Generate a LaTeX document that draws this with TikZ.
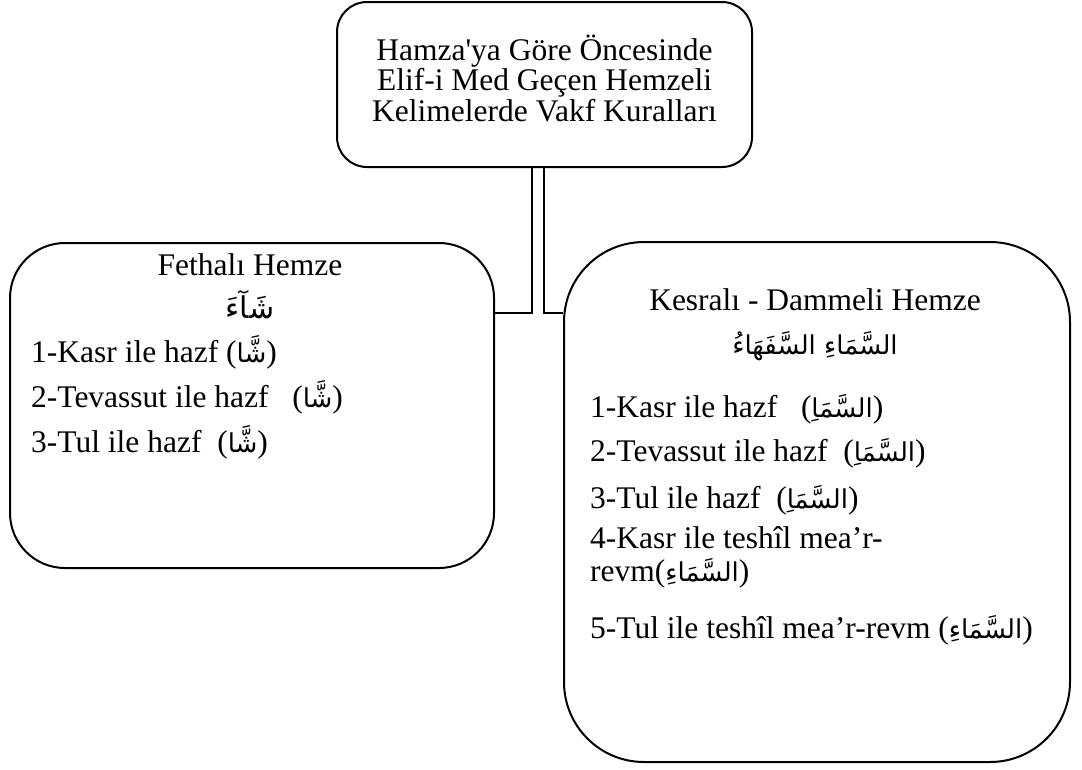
\documentclass[tikz,border=0pt]{standalone}
\usepackage{fontspec}
\setmainfont{Liberation Serif}
\newfontfamily\arabicfont[Script=Arabic]{DejaVu Sans}
\TeXXeTstate=1
% Arabic words, set right to left
\newcommand{\arw}[1]{{\arabicfont\fontsize{26}{30}\selectfont\beginR #1\endR}}
\begin{document}
\begin{tikzpicture}[x=1pt,y=-1pt,
  panel/.style={draw, line width=2pt, rounded corners=#1, inner sep=0pt},
  txt/.style={inner sep=0pt, font=\fontsize{31.5}{33}\selectfont},
  link/.style={line width=2pt}]
\useasboundingbox (0,0) rectangle (1082,769);

% boxes
\node[panel=30pt, minimum width=415pt, minimum height=165pt] (top) at (544.5,84.5) {};
\node[panel=55pt, minimum width=484pt, minimum height=325pt] (left) at (252,405.5) {};
\node[panel=80pt, minimum width=506pt, minimum height=520pt] (right) at (817,502) {};

% title
\node[txt, align=center] (title) at (544.5,78)
  {Hamza\textquotesingle ya Göre Öncesinde\\[-2.5pt]Elif-i Med Geçen Hemzeli\\[-2.5pt]Kelimelerde Vakf Kuralları};

% left box
\node[txt, anchor=base] (lh) at (250,275) {Fethalı Hemze};
\node[txt, anchor=base] (la) at (250,318) {{\arabicfont\fontsize{30}{34}\selectfont\beginR شَآءَ\endR}};
\node[txt, anchor=base west] (l1) at (31,362) {1-Kasr ile hazf (\arw{شَّا})};
\node[txt, anchor=base west] (l2) at (31,407) {2-Tevassut ile hazf \ \ (\arw{شَّا})};
\node[txt, anchor=base west] (l3) at (31,452) {3-Tul ile hazf \ (\arw{شَّا})};

% right box
\node[txt, anchor=base] (rh) at (815,310) {Kesralı - Dammeli Hemze};
\node[txt, anchor=base] (ra) at (815,354) {\arw{السَّمَاءِ السَّفَهَاءُ}};
\node[txt, anchor=base west] (r1) at (590,417) {1-Kasr ile hazf \ \ (\arw{السَّمَاِ})};
\node[txt, anchor=base west] (r2) at (590,461) {2-Tevassut ile hazf \ (\arw{السَّمَاِ})};
\node[txt, anchor=base west] (r3) at (590,508) {3-Tul ile hazf \ (\arw{السَّمَاِ})};
\node[txt, anchor=base west, align=left] (r4) at (590,581) {4-Kasr ile teshîl mea’r-\\revm(\arw{السَّمَاءِ})};
\node[txt, anchor=base west] (r5) at (590,638) {5-Tul ile teshîl mea’r-revm (\arw{السَّمَاءِ})};

% connectors
\coordinate (j) at (0,313);
\draw[link] ([xshift=-12.5pt]top.south) |- (left.east |- j);
\draw[link] ([xshift=-0.5pt]top.south) |- (right.west |- j);
\end{tikzpicture}
\end{document}
